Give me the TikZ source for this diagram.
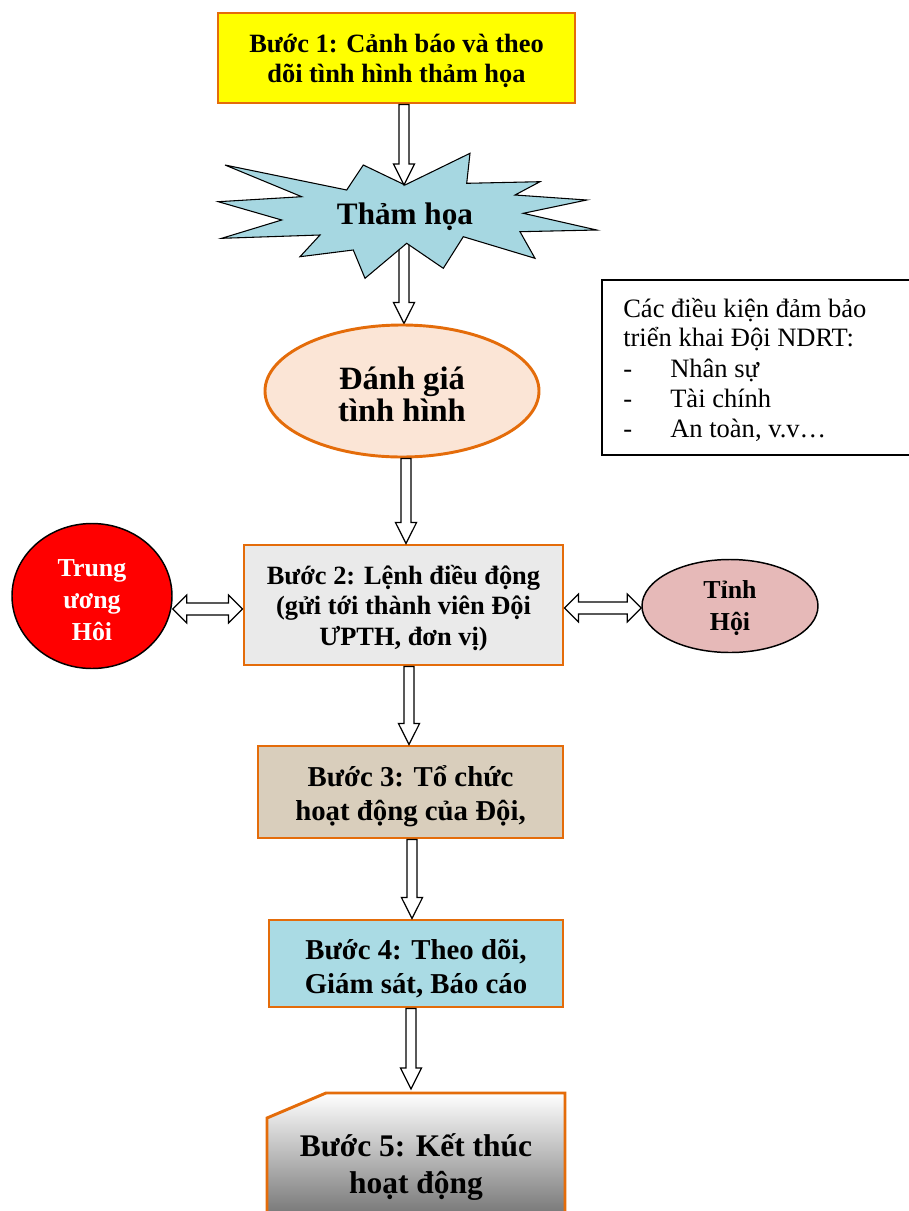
\documentclass[tikz,border=0pt]{standalone}
\usepackage{fontspec}
\setmainfont{Liberation Serif}
\usetikzlibrary{calc,backgrounds,shapes.geometric}
\definecolor{org}{RGB}{228,108,10}
\definecolor{yel}{RGB}{255,255,0}
\definecolor{peach}{RGB}{251,229,214}
\definecolor{pinkf}{RGB}{230,185,184}
\definecolor{greyf}{RGB}{234,234,234}
\definecolor{beige}{RGB}{217,206,188}
\definecolor{lblue}{RGB}{170,219,228}
\definecolor{bblue}{RGB}{166,215,225}
\definecolor{dgrey}{RGB}{118,118,118}
\tikzset{
  blk/.style={draw=black, fill=white, line width=0.9pt, line join=miter},
  stepbox/.style={draw=org, line width=2.2pt, inner sep=0pt},
  oval/.style={ellipse, inner sep=0pt},
  txt/.style={inner sep=0pt, align=center},
  fA/.style={txt, font=\fontsize{19.8}{23}\selectfont\bfseries},
  fB/.style={txt, font=\fontsize{21.6}{25.5}\selectfont\bfseries},
  fC/.style={txt, font=\fontsize{23.6}{27.5}\selectfont\bfseries},
  fD/.style={txt, font=\fontsize{23.4}{24}\selectfont\bfseries},
  fL/.style={txt, font=\fontsize{24.4}{24}\selectfont\bfseries},
  fE/.style={txt, font=\fontsize{19.4}{24}\selectfont\bfseries},
  fR/.style={font=\fontsize{19.9}{20.6}\selectfont, inner sep=0pt, anchor=base west},
}
\newcommand\vblk[3]{\draw[blk] let \p0=(#1,0), \p1=(#2), \p2=(#3) in
  (\x0-3.75pt,\y1) -- (\x0-3.75pt,\y2+15.75pt) -- (\x0-7.9pt,\y2+15.75pt) -- (\x0,\y2)
  -- (\x0+7.9pt,\y2+15.75pt) -- (\x0+3.75pt,\y2+15.75pt) -- (\x0+3.75pt,\y1) -- cycle;}
\newcommand\hblk[3]{\draw[blk] let \p0=(0,#1), \p1=(#2), \p2=(#3) in
  (\x1,\y0) -- (\x1+10.5pt,\y0+10.5pt) -- (\x1+10.5pt,\y0+4.5pt) -- (\x2-10.5pt,\y0+4.5pt)
  -- (\x2-10.5pt,\y0+10.5pt) -- (\x2,\y0) -- (\x2-10.5pt,\y0-10.5pt) -- (\x2-10.5pt,\y0-4.5pt)
  -- (\x1+10.5pt,\y0-4.5pt) -- (\x1+10.5pt,\y0-10.5pt) -- cycle;}
\begin{document}
\begin{tikzpicture}[x=0.75pt, y=-0.75pt]
\useasboundingbox (0,0) rectangle (909,1211);
\clip (0,0) rectangle (909,1211);

% Step 1
\node[stepbox, fill=yel, minimum width=267.75pt, minimum height=67.5pt] (b1) at (396.5,58) {};
\node[fA] (b1t) at ($(b1.center)+(0,3)$) {Bước 1: Cảnh báo và theo\\dõi tình hình thảm họa};

% starburst
\draw[black, line width=0.8pt, fill=bblue, line join=miter]
  (225,165) -- (346.7,190) -- (363.3,165) -- (405,185) -- (470,153.3) -- (466.7,183.3)
  -- (540,181.7) -- (515,195) -- (586.7,200) -- (523.3,213.3) -- (596.7,230)
  -- (520,231.7) -- (535,258.3) -- (463.3,236.7) -- (443.3,268.3) -- (406.7,243.3)
  -- (365,278.3) -- (353.3,250) -- (300,256.7) -- (320,235) -- (221.7,238.3)
  -- (281.7,220) -- (218.3,201.7) -- (301.7,196.7) -- cycle;
\node[fD] (burst) at (405,217) {Thảm họa};
\coordinate (notch) at (404,185);

% assessment ellipse
\node[oval, draw=org, line width=2.2pt, fill=peach, minimum width=205.5pt, minimum height=99pt] (ell) at (402,391) {};
\node[fL] (ellt) at ($(ell.center)+(0,3)$) {Đánh giá\\tình hình};

% conditions box
\draw[black, line width=1.5pt] (915,280) -- (602,280) -- (602,455) -- (915,455);
\coordinate (cond) at (602,280);
\node[fR] (c1) at (623,317) {Các điều kiện đảm bảo};
\node[fR] (c2) at (623,346) {triển khai Đội NDRT:};
\node[fR] (c3) at (623,377) {\makebox[35.25pt][l]{-}Nhân sự};
\node[fR] (c4) at (623,407) {\makebox[35.25pt][l]{-}Tài chính};
\node[fR] (c5) at (623,437) {\makebox[35.25pt][l]{-}An toàn, v.v…};

% Step 2
\node[stepbox, fill=greyf, minimum width=239.25pt, minimum height=90pt] (b2) at (403.5,605) {};
\node[fA] (b2t) at ($(b2.center)+(0,3)$) {Bước 2: Lệnh điều động\\(gửi tới thành viên Đội\\ƯPTH, đơn vị)};

% side ovals
\node[oval, draw=black, line width=1.1pt, fill=red, minimum width=120pt, minimum height=108.75pt] (tw) at (92,596) {};
\node[fE, text=white] (twt) at ($(tw.center)+(0,4)$) {Trung\\ương\\Hôi};
\node[oval, draw=black, line width=1.1pt, fill=pinkf, minimum width=132pt, minimum height=69.75pt] (th) at (730,606) {};
\node[fE] (tht) at ($(th.center)+(0,2)$) {Tỉnh\\Hội};

% Step 3
\node[stepbox, fill=beige, minimum width=228.75pt, minimum height=69pt] (b3) at (410.5,792) {};
\node[fB] (b3t) at ($(b3.center)+(0,4)$) {Bước 3: Tổ chức\\hoạt động của Đội,};

% Step 4
\node[stepbox, fill=lblue, minimum width=220.5pt, minimum height=65.25pt] (b4) at (416,963.5) {};
\node[fB] (b4t) at ($(b4.center)+(0,5)$) {Bước 4: Theo dõi,\\Giám sát, Báo cáo};

% Step 5
\shade[top color=white, bottom color=dgrey] (267,1118) -- (326,1093) -- (565,1093) -- (565,1216) -- (267,1216) -- cycle;
\draw[org, line width=2.2pt] (267,1216) -- (267,1118) -- (326,1093) -- (565,1093) -- (565,1216);
\node[fC] (b5) at (416,1167) {Bước 5: Kết thúc\\hoạt động};
\coordinate (b5top) at (411,1089);

% arrows
\vblk{404}{b1.south}{notch}
\begin{pgfonlayer}{background}
\vblk{404}{burst.center}{ell.north}
\end{pgfonlayer}
\vblk{406}{ell.south}{b2.north}
\vblk{409}{b2.south}{b3.north}
\vblk{412}{b3.south}{b4.north}
\vblk{411}{b4.south}{b5top}
\hblk{609}{tw.east}{b2.west}
\hblk{608}{b2.east}{th.west}
\end{tikzpicture}
\end{document}
